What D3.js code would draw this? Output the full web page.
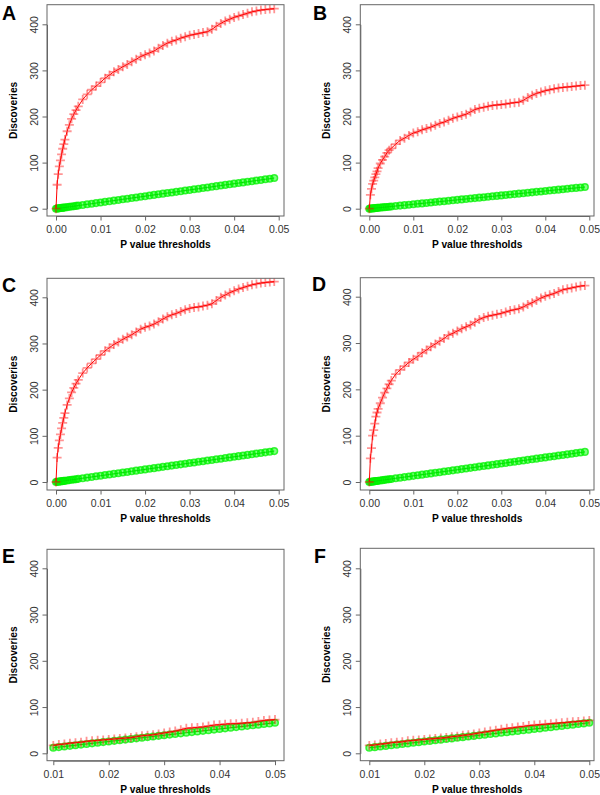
<!DOCTYPE html>
<html><head><meta charset="utf-8">
<script src="https://cdn.jsdelivr.net/npm/d3@7"></script>
<style>body{margin:0;background:#fff} svg{display:block}</style>
</head><body>
<svg id="c" width="600" height="795"></svg>
<script>
// ---------- DATA ----------
const thresholdsFull = [0,0.00025,0.0005,0.00075,0.001,0.00125,0.0015,0.00175,0.002,0.0025,0.003,0.0035,0.004,0.0045,0.005,
  0.006,0.007,0.008,0.009,0.010,0.011,0.012,0.013,0.014,0.015,0.016,0.017,0.018,0.019,0.020,0.021,0.022,0.023,0.024,0.025,
  0.026,0.027,0.028,0.029,0.030,0.031,0.032,0.033,0.034,0.035,0.036,0.037,0.038,0.039,0.040,0.041,0.042,0.043,0.044,0.045,
  0.046,0.047,0.048,0.049];
const thresholdsHigh = [0.010,0.011,0.012,0.013,0.014,0.015,0.016,0.017,0.018,0.019,0.020,0.021,0.022,0.023,0.024,0.025,
  0.026,0.027,0.028,0.029,0.030,0.031,0.032,0.033,0.034,0.035,0.036,0.037,0.038,0.039,0.040,0.041,0.042,0.043,0.044,0.045,
  0.046,0.047,0.048,0.049,0.050];
const xTicksFull = [0,0.01,0.02,0.03,0.04,0.05];
const xTicksHigh = [0.01,0.02,0.03,0.04,0.05];
const yTicks = [0,100,200,300,400];
const panelLabels = ["A","B","C","D","E","F"];
const xTitle = "P value thresholds";
const yTitle = "Discoveries";

const redA = [0,52,75,92,105,118,130,140,150,168,182,195,205,214,222,
  237,248,258,266,274,283,290,297,302,308,313,319,324,330,334,338,342,348,354,359,363,366,370,373,376,378,380,382,384,
  389,396,402,407,411,415,418,421,424,427,429,431,432,433,434];
const greenA = [0,0.3,0.7,1.0,1.4,1.7,2.0,2.4,2.7,3.4,4.1,4.7,5.4,6.1,6.8,
  8.1,9.5,10.9,12.2,13.6,14.9,16.3,17.6,19.0,20.4,21.7,23.1,24.4,25.8,27.1,28.5,29.9,31.2,32.6,33.9,35.3,36.6,38.0,39.4,
  40.7,42.1,43.4,44.8,46.1,47.5,48.9,50.2,51.6,52.9,54.3,55.6,57.0,58.4,59.7,61.1,62.4,63.8,65.1,66.5];
const redB = [0,30,43,54,61,68,75,81,88,98,106,113,121,127,131,
  140,148,153,159,164,167,171,174,177,181,185,188,192,196,199,202,205,210,215,218,220,222,224,225,226,227,229,230,231,
  235,241,246,250,253,256,258,260,262,263,264,265,266,267,268];
const greenB = [0,0.2,0.5,0.7,1.0,1.2,1.4,1.7,1.9,2.4,2.9,3.4,3.8,4.3,4.8,
  5.8,6.7,7.7,8.6,9.6,10.6,11.5,12.5,13.4,14.4,15.4,16.3,17.3,18.2,19.2,20.2,21.1,22.1,23.0,24.0,25.0,25.9,26.9,27.8,
  28.8,29.8,30.7,31.7,32.6,33.6,34.6,35.5,36.5,37.4,38.4,39.4,40.3,41.3,42.2,43.2,44.2,45.1,46.1,47.0];
const redC = [0,53,74,90,103,116,128,139,149,167,181,194,204,213,221,
  236,247,257,266,275,284,291,298,303,309,314,319,325,331,335,338,342,347,353,358,362,365,369,373,376,378,379,381,383,
  386,393,400,405,410,414,418,421,424,427,429,431,432,433,434];
const greenC = [0,0.3,0.7,1.0,1.4,1.7,2.0,2.4,2.7,3.4,4.1,4.8,5.4,6.1,6.8,
  8.2,9.5,10.9,12.3,13.6,15.0,16.4,17.7,19.1,20.5,21.8,23.2,24.6,25.9,27.3,28.7,30.0,31.4,32.8,34.1,35.5,36.9,38.2,39.6,
  41.0,42.3,43.7,45.1,46.4,47.8,49.2,50.5,51.9,53.3,54.6,56.0,57.4,58.7,60.1,61.5,62.8,64.2,65.6,66.9];
const redD = [0,51,73,100,112,126,141,150,158,170,182,193,202,211,219,
  233,242,250,258,265,271,279,285,292,298,304,310,317,321,326,331,335,339,345,351,355,358,360,362,364,367,370,372,374,
  378,383,387,392,397,401,404,407,411,415,417,419,421,423,424];
const greenD = [0,0.3,0.7,1.0,1.3,1.7,2.0,2.3,2.7,3.3,4.0,4.6,5.3,6.0,6.6,
  8.0,9.3,10.6,11.9,13.3,14.6,15.9,17.2,18.6,19.9,21.2,22.6,23.9,25.2,26.5,27.9,29.2,30.5,31.8,33.2,34.5,35.8,37.2,38.5,
  39.8,41.1,42.5,43.8,45.1,46.4,47.8,49.1,50.4,51.8,53.1,54.4,55.7,57.1,58.4,59.7,61.0,62.4,63.7,65.0];
const redE = [17,19,20,22,23,24,26,27,28,29,30,31,32,33,34,36,38,39,40,42,44,46,48,51,54,55,56,57,59,61,62,63,64,64,65,66,
  67,69,71,72,73];
const greenE = [12.0,13.4,14.7,16.1,17.4,18.8,20.1,21.5,22.8,24.2,25.5,26.9,28.2,29.6,30.9,32.3,33.6,35.0,36.3,37.7,39.0,
  40.4,41.7,43.1,44.4,45.8,47.1,48.5,49.8,51.2,52.5,53.9,55.2,56.6,57.9,59.3,60.6,62.0,63.3,64.7,66.0];
const redF = [17,18,20,21,23,24,25,27,28,29,30,31,32,33,34,36,37,39,40,42,44,46,48,50,52,54,55,57,58,60,61,62,63,64,65,66,
  67,68,69,70,71];
const greenF = [12.0,13.3,14.7,16.0,17.4,18.7,20.1,21.4,22.8,24.1,25.5,26.8,28.2,29.5,30.9,32.2,33.6,34.9,36.3,37.6,39.0,
  40.3,41.7,43.0,44.4,45.7,47.1,48.4,49.8,51.1,52.5,53.8,55.2,56.5,57.9,59.2,60.6,61.9,63.3,64.6,66.0];

// ---------- LAYOUT (positions only) ----------
const panels = [
  {label:panelLabels[0], t:thresholdsFull, ticks:xTicksFull, red:redA, green:greenA, xd:[0,0.05],
   box:[47,284,4.7,216], xr:[56,278.7], yr:[208.7,24.3], lab:[2,20]},
  {label:panelLabels[1], t:thresholdsFull, ticks:xTicksFull, red:redB, green:greenB, xd:[0,0.05],
   box:[360.3,594,4.7,216], xr:[369.3,589.3], yr:[208.7,24.3], lab:[313,20]},
  {label:panelLabels[2], t:thresholdsFull, ticks:xTicksFull, red:redC, green:greenC, xd:[0,0.05],
   box:[47,284,278.3,490], xr:[56,278.7], yr:[482,297.3], lab:[2,291.5]},
  {label:panelLabels[3], t:thresholdsFull, ticks:xTicksFull, red:redD, green:greenD, xd:[0,0.05],
   box:[360.3,594,277.7,490], xr:[369.3,589.3], yr:[482,296.7], lab:[312,290.5]},
  {label:panelLabels[4], t:thresholdsHigh, ticks:xTicksHigh, red:redE, green:greenE, xd:[0.01,0.05],
   box:[47,284,549.3,760.7], xr:[53.3,275], yr:[753.3,568.3], lab:[2,563.3]},
  {label:panelLabels[5], t:thresholdsHigh, ticks:xTicksHigh, red:redF, green:greenF, xd:[0.01,0.05],
   box:[360.3,594,548.3,760.7], xr:[369.3,589.3], yr:[753.3,568.3], lab:[314,563.3]}
];

const FONT = "'Liberation Sans', Arial, Helvetica, sans-serif";
const svg = d3.select("#c");

panels.forEach((p, i) => {
  const [bl, br, bt, bb] = p.box;
  const x = d3.scaleLinear().domain(p.xd).range(p.xr);
  const y = d3.scaleLinear().domain([0, 400]).range(p.yr);
  const g = svg.append("g");

  const clipId = "clip" + i;
  svg.append("clipPath").attr("id", clipId)
    .append("rect").attr("x", bl).attr("y", bt).attr("width", br - bl).attr("height", bb - bt);

  const plot = g.append("g").attr("clip-path", `url(#${clipId})`);

  // green series (open circles + line)
  const gData = p.t.map((d, k) => [d, p.green[k]]);
  plot.append("g").selectAll("circle").data(gData).join("circle")
    .attr("cx", d => x(d[0])).attr("cy", d => y(d[1])).attr("r", 3.3)
    .attr("fill", "#00ff00").attr("fill-opacity", 0.5)
    .attr("stroke", "#00f000").attr("stroke-opacity", 0.75).attr("stroke-width", 1.5);
  plot.append("path").datum(gData)
    .attr("d", d3.line().x(d => x(d[0])).y(d => y(d[1])))
    .attr("fill", "none").attr("stroke", "#00e000").attr("stroke-width", 1);

  // red series (plus markers + line)
  const rData = p.t.map((d, k) => [d, p.red[k]]);
  plot.append("g").selectAll("path").data(rData).join("path")
    .attr("transform", d => `translate(${x(d[0])},${y(d[1])})`)
    .attr("d", "M-4.5,0H4.5M0,-4.5V4.5")
    .attr("stroke", "#ff0000").attr("stroke-opacity", 0.42).attr("stroke-width", 1.8).attr("fill", "none");
  plot.append("path").datum(rData)
    .attr("d", d3.line().x(d => x(d[0])).y(d => y(d[1])))
    .attr("fill", "none").attr("stroke", "#ff0000").attr("stroke-width", 1);

  // box
  g.append("rect").attr("x", bl).attr("y", bt).attr("width", br - bl).attr("height", bb - bt)
    .attr("fill", "none").attr("stroke", "#666").attr("stroke-width", 1);

  // x axis
  const xa = g.append("g").attr("transform", `translate(0,${bb})`)
    .call(d3.axisBottom(x).tickValues(p.ticks).tickSize(4.5).tickSizeOuter(0).tickPadding(5)
      .tickFormat(d3.format(".2f")));
  // y axis
  const ya = g.append("g").attr("transform", `translate(${bl},0)`)
    .call(d3.axisLeft(y).tickValues(yTicks).tickSize(4.5).tickSizeOuter(0));
  ya.selectAll(".tick text")
    .attr("transform", "rotate(-90)").attr("x", 0).attr("y", -9.5).attr("dy", 0)
    .attr("text-anchor", "middle");
  [xa, ya].forEach(a => {
    a.selectAll("path.domain, line").attr("stroke", "#666");
    a.selectAll("text").attr("fill", "#333").style("font-family", FONT).style("font-size", "10.5px");
    a.attr("font-family", null);
  });

  // titles
  g.append("text").attr("x", (bl + br) / 2).attr("y", bb + 32).attr("text-anchor", "middle")
    .style("font-family", FONT).style("font-size", "10.2px").style("font-weight", "bold").text(xTitle);
  g.append("text").attr("transform", `translate(${bl - 30.5},${(bt + bb) / 2}) rotate(-90)`)
    .attr("text-anchor", "middle")
    .style("font-family", FONT).style("font-size", "10.2px").style("font-weight", "bold").text(yTitle);

  // panel letter
  g.append("text").attr("x", p.lab[0]).attr("y", p.lab[1])
    .style("font-family", FONT).style("font-size", "19.5px").style("font-weight", "bold").text(p.label);
});
</script>
</body></html>
